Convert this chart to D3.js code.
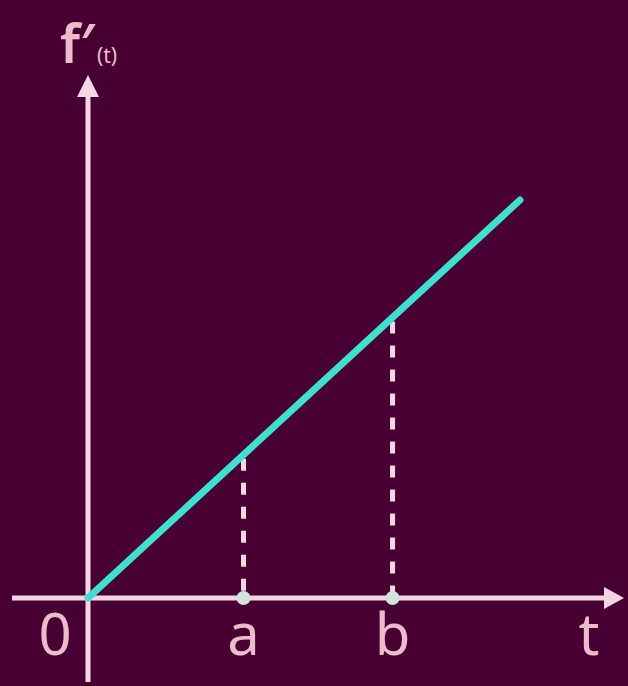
<!DOCTYPE html>
<html>
<head>
<meta charset="utf-8">
<script src="https://cdn.jsdelivr.net/npm/d3@7"></script>
<style>
  html, body { margin: 0; padding: 0; background: #480032; }
  svg { display: block; }
</style>
</head>
<body>
<svg id="chart"></svg>
<script>
// f'(t) is a straight line through the origin
const lineT = [0, 10];
const lineV = [0, 10];
// marked points on the t axis
const markLabels = ["a", "b"];
const markT = [3.6, 7.05];

const width = 628, height = 686;
const bg = "#480032", axisColor = "#f2d6e4", textColor = "#ecbccd", lineColor = "#3fe0d0";

const svg = d3.select("#chart").attr("width", width).attr("height", height);
svg.append("rect").attr("width", width).attr("height", height).attr("fill", bg);

const x = d3.scaleLinear().domain([0, 10]).range([88, 520]);
const y = d3.scaleLinear().domain([0, 10]).range([598, 200]);

// axes
svg.append("line")
  .attr("x1", 12).attr("x2", 608)
  .attr("y1", y(0)).attr("y2", y(0))
  .attr("stroke", axisColor).attr("stroke-width", 5);
svg.append("path")
  .attr("d", `M624,${y(0)} L604,${y(0) - 11} L604,${y(0) + 11} Z`)
  .attr("fill", axisColor);

svg.append("line")
  .attr("x1", x(0)).attr("x2", x(0))
  .attr("y1", 92).attr("y2", 682)
  .attr("stroke", axisColor).attr("stroke-width", 5);
svg.append("path")
  .attr("d", `M${x(0)},75 L${x(0) - 11},97 L${x(0) + 11},97 Z`)
  .attr("fill", axisColor);

// dashed drop lines
const marks = markT.map((t, i) => ({ t: t, label: markLabels[i] }));
svg.selectAll(".drop")
  .data(marks)
  .enter()
  .append("line")
  .attr("class", "drop")
  .attr("x1", d => x(d.t)).attr("x2", d => x(d.t))
  .attr("y1", d => y(d.t) + 4).attr("y2", y(0))
  .attr("stroke", axisColor)
  .attr("stroke-width", 5)
  .attr("stroke-dasharray", "12,12");

// the line
const pts = lineT.map((t, i) => [t, lineV[i]]);
svg.append("path")
  .datum(pts)
  .attr("d", d3.line().x(d => x(d[0])).y(d => y(d[1])))
  .attr("fill", "none")
  .attr("stroke", lineColor)
  .attr("stroke-width", 7)
  .attr("stroke-linecap", "round");

// dots on the axis
svg.selectAll(".dot")
  .data(marks)
  .enter()
  .append("circle")
  .attr("cx", d => x(d.t))
  .attr("cy", y(0))
  .attr("r", 7)
  .attr("fill", "#d2e2dc");

// labels
const font = "'Noto Sans', sans-serif";
const labelSize = 58, labelY = 655;
svg.selectAll(".mlabel")
  .data(marks)
  .enter()
  .append("text")
  .attr("x", d => x(d.t))
  .attr("y", labelY)
  .attr("text-anchor", "middle")
  .attr("font-family", font)
  .attr("font-size", labelSize)
  .attr("fill", textColor)
  .text(d => d.label);

svg.append("text")
  .attr("x", 55).attr("y", labelY)
  .attr("text-anchor", "middle")
  .attr("font-family", font)
  .attr("font-size", labelSize)
  .attr("fill", textColor)
  .text("0");

svg.append("text")
  .attr("x", 589).attr("y", labelY)
  .attr("text-anchor", "middle")
  .attr("font-family", font)
  .attr("font-size", labelSize)
  .attr("fill", textColor)
  .text("t");

const fl = svg.append("text")
  .attr("x", 60).attr("y", 63)
  .attr("font-family", font)
  .attr("fill", textColor);
fl.append("tspan").attr("font-size", 54).attr("font-weight", 600).text("f\u2032");
fl.append("tspan").attr("font-size", 21).attr("dx", 2).text("(t)");
</script>
</body>
</html>
